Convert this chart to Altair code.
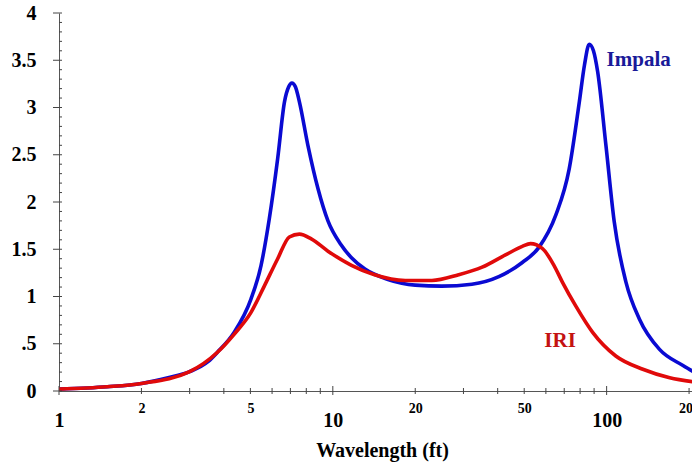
import altair as alt
import pandas as pd

# Impala response (blue)
impala_x = [1, 1.5, 2, 2.5, 3, 3.5, 3.79, 4.36, 5.02, 5.47, 5.86, 6.29, 6.66, 6.9, 7.09, 7.3, 7.55,
            8.11, 8.83, 9.6, 10.7, 11.7, 13.1, 15.9, 20, 25, 32.2, 40.4, 49.2, 56.6, 65.2,
            73, 79.5, 83, 86.4, 89.5, 92.7, 99.4, 106.6, 117.7, 131.8, 156, 190, 210]
impala_y = [0.02, 0.045, 0.08, 0.14, 0.205, 0.31, 0.41, 0.62, 0.97, 1.33, 1.82, 2.46, 3.06, 3.22, 3.26, 3.22, 3.06,
            2.60, 2.14, 1.80, 1.55, 1.41, 1.29, 1.18, 1.12, 1.11, 1.13, 1.21, 1.36, 1.52, 1.86,
            2.35, 3.06, 3.45, 3.67, 3.6, 3.38, 2.60, 1.79, 1.15, 0.76, 0.44, 0.27, 0.195]

# IRI response (red)
iri_x = [1, 1.5, 2, 3, 3.79, 4.36, 5.02, 5.62, 6.29, 6.94, 7.55, 8.34, 9.6, 11.7, 14.2, 18.4,
         23, 28.8, 35.1, 42.7, 49.2, 52.7, 58.2, 64.2, 69, 77.1, 88.9, 108, 135.6, 170, 210]
iri_y = [0.02, 0.045, 0.08, 0.205, 0.41, 0.6, 0.83, 1.11, 1.40, 1.63, 1.66, 1.61, 1.48, 1.33, 1.23, 1.17,
         1.17, 1.23, 1.31, 1.44, 1.53, 1.56, 1.51, 1.33, 1.15, 0.90, 0.62, 0.37, 0.23, 0.14, 0.095]

series_names = ["Impala", "IRI"]
series_colors = ["#0a0ad2", "#e00a0a"]
label_colors = ["#1a1a99", "#c41212"]
label_x = [130.9, 67.6]
label_y = [3.50, 0.53]

x_major = [1, 10, 100]
x_minor_labels = [2, 5, 20, 50, 200]
x_minor_ticks = [2, 3, 4, 5, 6, 7, 8, 9, 20, 30, 40, 50, 60, 70, 80, 90, 200]
y_major = [0, 0.5, 1, 1.5, 2, 2.5, 3, 3.5, 4]
y_minor = [round(i * 0.1, 1) for i in range(41) if i % 5 != 0]

FONT = "'Liberation Serif', 'Times New Roman', serif"
TICK = "#444444"

df = pd.concat([
    pd.DataFrame({"wl": impala_x, "v": impala_y, "s": "Impala"}),
    pd.DataFrame({"wl": iri_x, "v": iri_y, "s": "IRI"}),
])
lab = pd.DataFrame({"wl": label_x, "v": label_y, "s": series_names, "c": label_colors})

xscale = alt.Scale(type="log", domain=[1, 205])
yscale = alt.Scale(domain=[0, 4])

lines = alt.Chart(df).mark_line(strokeWidth=3.6, interpolate="monotone", clip=True).encode(
    x=alt.X("wl:Q", scale=xscale,
            axis=alt.Axis(values=x_major, orient="bottom", ticks=False, labelPadding=29,
                          labelBaseline="middle", labelFontSize=20, labelFont=FONT, labelFontWeight="bold",
                          labelColor="black", labelFlush=False, labelOverlap=False, labelExpr="datum.value",
                          domain=True, domainColor="#555555", grid=False,
                          title="Wavelength (ft)", titleFont=FONT, titleFontSize=20, titleFontWeight="bold",
                          titleColor="black", titleX=323, titleY=59, titleBaseline="middle", titleAlign="center")),
    y=alt.Y("v:Q", scale=yscale,
            axis=alt.Axis(orient="left", values=y_major, ticks=False, labelPadding=23,
                          labelFontSize=20, labelFont=FONT, labelFontWeight="bold", labelColor="black",
                          labelExpr="datum.value == 0.5 ? '.5' : '' + datum.value",
                          domain=True, domainColor="#555555", grid=False, title=None)),
    color=alt.Color("s:N", scale=alt.Scale(domain=series_names, range=series_colors), legend=None),
    order=alt.Order("wl:Q"),
)

texts = alt.Chart(lab).mark_text(font=FONT, fontSize=21, fontWeight="bold", baseline="middle", align="center").encode(
    x=alt.X("wl:Q", scale=xscale,
            axis=alt.Axis(values=x_minor_labels, orient="bottom", ticks=False, labelPadding=17,
                          labelBaseline="middle", labelFontSize=14, labelFont=FONT, labelFontWeight="bold",
                          labelColor="black", labelFlush=False, labelOverlap=False, labelExpr="datum.value",
                          domain=False, grid=False, title=None)),
    y=alt.Y("v:Q", scale=yscale, axis=None),
    text="s:N",
    color=alt.Color("c:N", scale=None),
)

# tick marks drawn as short rules positioned by the scales
ymin_t = alt.Chart(pd.DataFrame({"v": y_minor})).mark_rule(color=TICK, strokeWidth=1).encode(
    y=alt.Y("v:Q", scale=yscale, axis=None), x=alt.value(0), x2=alt.value(3))
ymaj_t = alt.Chart(pd.DataFrame({"v": y_major})).mark_rule(color=TICK, strokeWidth=1).encode(
    y=alt.Y("v:Q", scale=yscale, axis=None), x=alt.value(-6), x2=alt.value(3))
xmin_t = alt.Chart(pd.DataFrame({"wl": x_minor_ticks})).mark_rule(color=TICK, strokeWidth=1).encode(
    x=alt.X("wl:Q", scale=xscale, axis=None), y=alt.value(375), y2=alt.value(381))
xmaj_t = alt.Chart(pd.DataFrame({"wl": x_major})).mark_rule(color=TICK, strokeWidth=1).encode(
    x=alt.X("wl:Q", scale=xscale, axis=None), y=alt.value(373), y2=alt.value(382))

chart = alt.layer(lines, texts, ymin_t, ymaj_t, xmin_t, xmaj_t).resolve_axis(
    x="independent", y="independent").properties(
    width=633, height=378,
    autosize=alt.AutoSizeParams(type="none"),
    padding={"left": 59, "top": 13, "right": 0, "bottom": 71},
    background="white",
).configure_view(stroke=None)

chart.save("out.html", embed_options={"renderer": "svg", "actions": False})
